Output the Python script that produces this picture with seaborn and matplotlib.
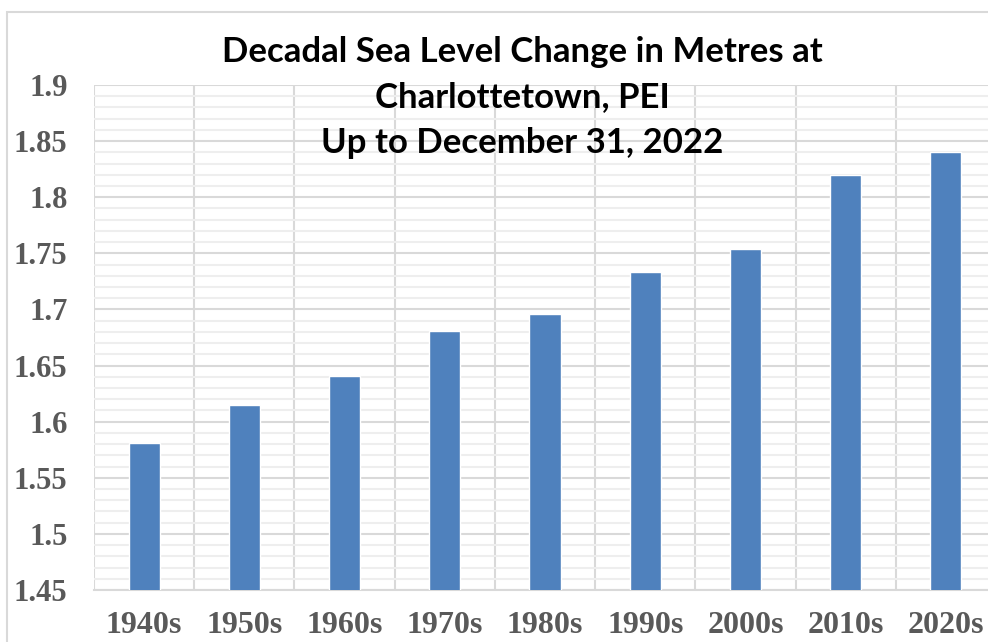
import matplotlib
matplotlib.use("Agg")
import matplotlib.pyplot as plt
import seaborn as sns
import pandas as pd
import numpy as np
from matplotlib.patches import Rectangle
from matplotlib.ticker import MultipleLocator, FixedLocator

decades = ["1940s", "1950s", "1960s", "1970s", "1980s", "1990s", "2000s", "2010s", "2020s"]
sea_level = [1.581, 1.615, 1.641, 1.681, 1.696, 1.733, 1.754, 1.820, 1.840]
y_ticks = [1.45, 1.5, 1.55, 1.6, 1.65, 1.7, 1.75, 1.8, 1.85, 1.9]
y_tick_labels = ["1.45", "1.5", "1.55", "1.6", "1.65", "1.7", "1.75", "1.8", "1.85", "1.9"]
title_lines = ["Decadal Sea Level Change in Metres at", "Charlottetown, PEI", "Up to December 31, 2022"]

df = pd.DataFrame({"decade": decades, "level": sea_level})

sns.set_theme(style="white")
fig = plt.figure(figsize=(9.88, 6.42), dpi=100)
fig.patch.set_facecolor("white")

# outer chart border
fig.patches.append(Rectangle((7/988, -0.1), 1.2, (642-12)/642 + 0.1, transform=fig.transFigure,
                             fill=False, edgecolor="#d9d9d9", linewidth=1.5, zorder=0))

ax = fig.add_axes([94/988, 52/642, 902/988, 505/642])
sns.barplot(data=df, x="decade", y="level", color="#4F81BD", width=0.31, ax=ax,
            saturation=1, zorder=3)

ax.set_ylim(1.45, 1.9)
ax.set_xlim(-0.5, len(decades) - 0.5)
ax.set_yticks(y_ticks)
ax.set_yticklabels(y_tick_labels)
ax.yaxis.set_minor_locator(MultipleLocator(0.01))
ax.xaxis.set_minor_locator(FixedLocator(np.arange(-0.5, len(decades), 1.0)))

ax.yaxis.grid(True, which="major", color="#d9d9d9", linewidth=1.5, zorder=1)
ax.yaxis.grid(True, which="minor", color="#eeeeee", linewidth=1.5, zorder=0)
ax.xaxis.grid(True, which="minor", color="#d9d9d9", linewidth=1.5, zorder=1)
ax.xaxis.grid(False, which="major")
ax.set_axisbelow(True)

for s in ["top", "right", "left"]:
    ax.spines[s].set_visible(False)
ax.spines["bottom"].set_color("#d9d9d9")
ax.spines["bottom"].set_linewidth(1.5)

ax.tick_params(axis="both", which="both", length=0)
ax.tick_params(axis="y", pad=19)
ax.tick_params(axis="x", pad=15)
for lab in ax.get_yticklabels():
    lab.set_fontfamily("Liberation Serif")
    lab.set_fontweight("bold")
    lab.set_fontsize(22)
    lab.set_color("#595959")
for lab in ax.get_xticklabels():
    lab.set_fontfamily("Liberation Serif")
    lab.set_fontweight("bold")
    lab.set_fontsize(23)
    lab.set_color("#595959")
ax.set_xlabel("")
ax.set_ylabel("")

title_baselines = [62, 107, 153]
for line, yb in zip(title_lines, title_baselines):
    fig.text(522/988, 1 - yb/642, line, ha="center", va="baseline",
             fontfamily="Lato", fontweight="bold", fontsize=25, color="black")

fig.savefig("out.png", dpi=100, facecolor="white")
